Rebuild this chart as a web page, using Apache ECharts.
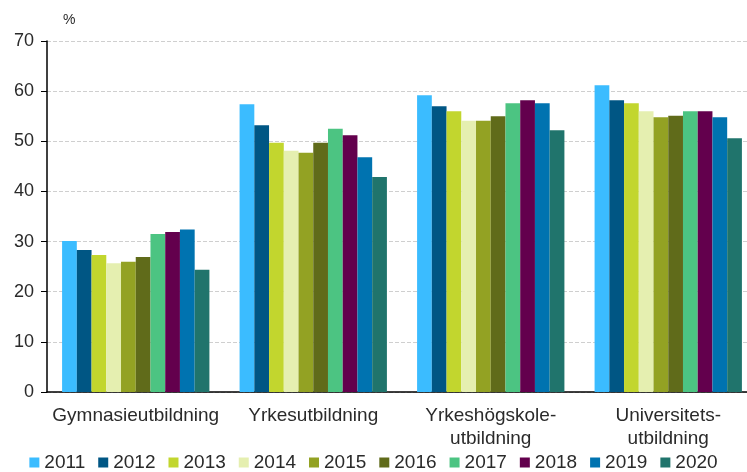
<!DOCTYPE html>
<html><head><meta charset="utf-8">
<script src="https://cdn.jsdelivr.net/npm/echarts@6/dist/echarts.min.js"></script>
<style>html,body{margin:0;padding:0;background:#fff}#c{width:747px;height:472px}</style>
</head><body><div id="c"></div>
<script>
var categories = ['Gymnasieutbildning', 'Yrkesutbildning', 'Yrkeshögskole-\nutbildning', 'Universitets-\nutbildning'];
var years = ['2011','2012','2013','2014','2015','2016','2017','2018','2019','2020'];
var colors = ['#3bbcff','#005684','#c2d62e','#e5efb0','#93a223','#606b1a','#4cc482','#63004d','#0073b0','#20746c'];
var v2011 = [30.1, 57.4, 59.2, 61.2];
var v2012 = [28.3, 53.2, 57.0, 58.2];
var v2013 = [27.3, 49.7, 56.0, 57.6];
var v2014 = [25.7, 48.1, 54.1, 56.0];
var v2015 = [26.0, 47.7, 54.1, 54.8];
var v2016 = [26.9, 49.7, 55.0, 55.1];
var v2017 = [31.5, 52.5, 57.6, 56.0];
var v2018 = [31.9, 51.2, 58.2, 56.0];
var v2019 = [32.4, 46.8, 57.6, 54.8];
var v2020 = [24.4, 42.9, 52.2, 50.6];
var values = [v2011,v2012,v2013,v2014,v2015,v2016,v2017,v2018,v2019,v2020];
var yTicks = [0,10,20,30,40,50,60,70];

var chart = echarts.init(document.getElementById('c'), null, {renderer:'canvas'});
var font = 'Liberation Sans, Arial, sans-serif';
chart.setOption({
  animation:false,
  color: colors,
  textStyle:{fontFamily:font},
  grid:{left:47, top:41, width:710, height:351, containLabel:false, outerBoundsMode:'none'},
  legend:{
    top:453, left:'center', itemWidth:10, itemHeight:10, itemGap:13, padding:[0,5,0,5],
    icon:'rect',
    textStyle:{fontSize:19, color:'#2a2a2a', fontFamily:font},
    data: years
  },
  xAxis:{
    type:'category', data:categories,
    axisLine:{lineStyle:{color:'#000', width:1.5}},
    axisTick:{show:false},
    axisLabel:{fontSize:19, color:'#2a2a2a', margin:12, lineHeight:23, interval:0}
  },
  yAxis:{
    type:'value', min:yTicks[0], max:yTicks[yTicks.length-1], interval:10,
    name:'%', nameLocation:'end', nameGap:14,
    nameTextStyle:{fontSize:14, color:'#2a2a2a', align:'left', padding:[0,0,0,16]},
    axisLine:{show:true, lineStyle:{color:'#000', width:1.5}},
    axisTick:{show:true, length:6, lineStyle:{color:'#000'}},
    axisLabel:{fontSize:18, color:'#2a2a2a', margin:13},
    splitLine:{lineStyle:{color:'#cfcfcf', type:'dashed', width:1}}
  },
  series: years.map(function(y,i){
    return {name:y, type:'bar', data:values[i], barGap:'0%', barCategoryGap:'17%',
      itemStyle:{color:colors[i]}};
  })
});
</script></body></html>
